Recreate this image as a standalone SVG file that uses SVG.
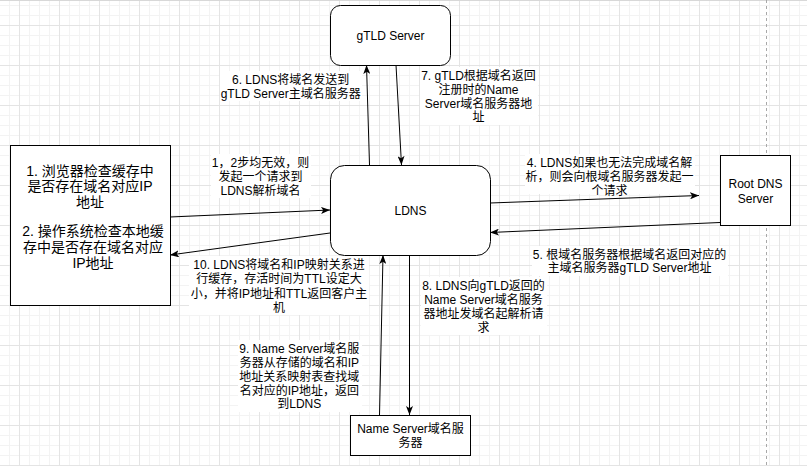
<svg xmlns="http://www.w3.org/2000/svg" width="807" height="466" viewBox="0 0 807 466">
<style>
  text { font-family: "Liberation Sans", "Noto Sans CJK SC", sans-serif; fill: #000; }
  .n { fill: #fff; stroke: #000; stroke-width: 1; }
  .t12 { font-size: 12px; text-anchor: middle; }
  .t14 { font-size: 14px; text-anchor: middle; }
  .bg { fill: #fff; }
  .c { fill: none; stroke: #000; stroke-width: 1; marker-end: url(#arr); }
</style>
<defs>
  <pattern id="grid" x="19" y="25" width="40" height="40" patternUnits="userSpaceOnUse">
    <rect width="40" height="40" fill="#fff"/>
    <path d="M10.5,0V40M20.5,0V40M30.5,0V40M0,10.5H40M0,20.5H40M0,30.5H40" stroke="#f3f3f3" stroke-width="1"/>
    <path d="M0.5,0V40M0,0.5H40" stroke="#e4e4e4" stroke-width="1"/>
  </pattern>
  <marker id="arr" viewBox="0 0 9 7" markerWidth="9" markerHeight="7" refX="9" refY="3.5" orient="auto" markerUnits="userSpaceOnUse">
    <path d="M0,0 L9,3.5 L0,7 L2.2,3.5 z" fill="#000"/>
  </marker>
</defs>
<g id="background">
  <rect width="807" height="466" fill="url(#grid)"/>
  <line x1="0" y1="0.5" x2="807" y2="0.5" stroke="#d8d8d8"/>
  <line x1="766.5" y1="0" x2="766.5" y2="466" stroke="#a8a8a8" stroke-dasharray="3 3"/>
</g>
<g id="labels">
  <g id="label-1">
    <rect class="bg" x="211" y="154" width="100" height="44"/>
    <text class="t12" x="260.5" y="166.5">1，2步均无效，则</text>
    <text class="t12" x="260.5" y="181">发起一个请求到</text>
    <text class="t12" x="260.5" y="195">LDNS解析域名</text>
  </g>
  <g id="label-4">
    <rect class="bg" x="525" y="154" width="170" height="40"/>
    <text class="t12" x="609.5" y="167">4. LDNS如果也无法完成域名解</text>
    <text class="t12" x="609.5" y="180.5">析，则会向根域名服务器发起一</text>
    <text class="t12" x="609.5" y="194.5">个请求</text>
  </g>
  <g id="label-5">
    <rect class="bg" x="532" y="246" width="196" height="30"/>
    <text class="t12" x="629.5" y="258.5">5. 根域名服务器根据域名返回对应的</text>
    <text class="t12" x="629.5" y="272">主域名服务器gTLD Server地址</text>
  </g>
  <g id="label-6">
    <rect class="bg" x="220" y="71" width="142" height="30"/>
    <text class="t12" x="290.7" y="83.5">6. LDNS将域名发送到</text>
    <text class="t12" x="290.7" y="97.5">gTLD Server主域名服务器</text>
  </g>
  <g id="label-7">
    <rect class="bg" x="420" y="67" width="118" height="58"/>
    <text class="t12" x="478.5" y="80.3">7. gTLD根据域名返回</text>
    <text class="t12" x="478.5" y="94">注册时的Name</text>
    <text class="t12" x="478.5" y="107.5">Server域名服务器地</text>
    <text class="t12" x="478.5" y="121.3">址</text>
  </g>
  <g id="label-8">
    <rect class="bg" x="421" y="277" width="126" height="58"/>
    <text class="t12" x="483.5" y="289.5">8. LDNS向gTLD返回的</text>
    <text class="t12" x="483.5" y="303.5">Name Server域名服务</text>
    <text class="t12" x="483.5" y="317.5">器地址发域名起解析请</text>
    <text class="t12" x="483.5" y="331.5">求</text>
  </g>
  <g id="label-9">
    <rect class="bg" x="238" y="340" width="124" height="72"/>
    <text class="t12" x="299.3" y="353">9. Name Server域名服</text>
    <text class="t12" x="299.3" y="366.5">务器从存储的域名和IP</text>
    <text class="t12" x="299.3" y="380.5">地址关系映射表查找域</text>
    <text class="t12" x="299.3" y="394.5">名对应的IP地址，返回</text>
    <text class="t12" x="299.3" y="408">到LDNS</text>
  </g>
  <g id="label-10">
    <rect class="bg" x="189" y="256" width="180" height="59"/>
    <text class="t12" x="279" y="268.5">10. LDNS将域名和IP映射关系进</text>
    <text class="t12" x="279" y="283">行缓存，存活时间为TTL设定大</text>
    <text class="t12" x="279" y="297.5">小，并将IP地址和TTL返回客户主</text>
    <text class="t12" x="279" y="312">机</text>
  </g>
</g>
<g id="connectors">
  <path class="c" d="M170,217 L330,210"/>
  <path class="c" d="M330,233 L170,255"/>
  <path class="c" d="M490,203 L699,195.5"/>
  <path class="c" d="M720,222.5 L490,232.5"/>
  <path class="c" d="M369.5,165 L366.5,65"/>
  <path class="c" d="M396,65 L401.5,165"/>
  <path class="c" d="M409.5,255 L409.5,415"/>
  <path class="c" d="M379.5,415 L383,255"/>
</g>
<g id="node-browser">
  <rect class="n" x="10.5" y="145.5" width="160" height="160"/>
  <text class="t14" x="90" y="176">1. 浏览器检查缓存中</text>
  <text class="t14" x="90" y="191">是否存在域名对应IP</text>
  <text class="t14" x="90" y="207">地址</text>
  <text class="t14" x="93" y="236">2. 操作系统检查本地缓</text>
  <text class="t14" x="93" y="251.5">存中是否存在域名对应</text>
  <text class="t14" x="93" y="267.5">IP地址</text>
</g>
<g id="node-gtld">
  <rect class="n" x="330.5" y="5.5" width="120" height="60" rx="10" ry="10"/>
  <text class="t12" x="390.5" y="39.5">gTLD Server</text>
</g>
<g id="node-ldns">
  <rect class="n" x="330.5" y="165.5" width="160" height="90" rx="14" ry="14"/>
  <text class="t12" x="410.5" y="214.5">LDNS</text>
</g>
<g id="node-root">
  <rect class="n" x="720.5" y="155.5" width="70" height="70"/>
  <text class="t12" x="755.5" y="187.5">Root DNS</text>
  <text class="t12" x="755.5" y="202.5">Server</text>
</g>
<g id="node-nameserver">
  <rect class="n" x="350.5" y="415.5" width="120" height="40"/>
  <text class="t12" x="410.5" y="432.5">Name Server域名服</text>
  <text class="t12" x="410.5" y="447">务器</text>
</g>
</svg>
